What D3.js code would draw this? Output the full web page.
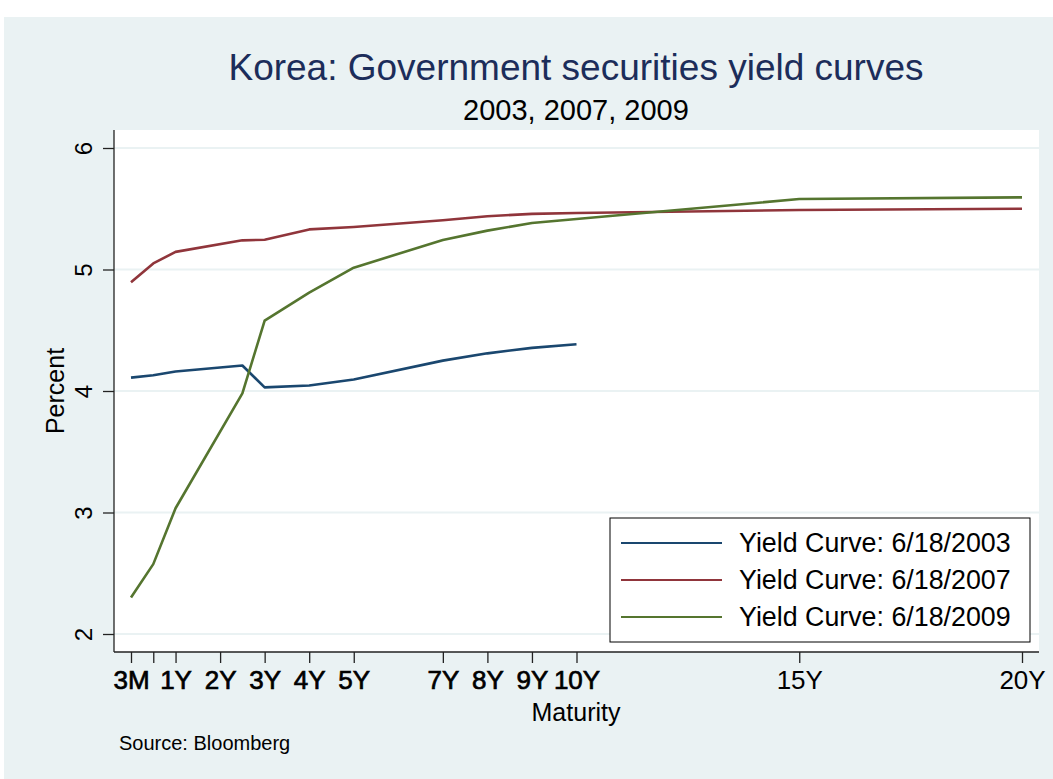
<!DOCTYPE html>
<html>
<head>
<meta charset="utf-8">
<script src="https://cdn.jsdelivr.net/npm/d3@7"></script>
<style>
  html, body { margin: 0; padding: 0; background: #ffffff; }
  svg { display: block; }
  text { font-family: "Liberation Sans", Arial, Helvetica, sans-serif; }
</style>
</head>
<body>
<script>
// ---- data ----
const maturityPos = [0, 0.5, 1, 2.5, 3, 4, 5, 7, 8, 9, 10, 15, 20];
const yield2003 = [4.11, 4.13, 4.16, 4.21, 4.03, 4.045, 4.095, 4.25, 4.31, 4.355, 4.385, null, null];
const yield2007 = [4.895, 5.05, 5.145, 5.24, 5.245, 5.33, 5.35, 5.405, 5.438, 5.458, 5.465, 5.49, 5.50];
const yield2009 = [2.30, 2.575, 3.035, 3.98, 4.58, 4.81, 5.015, 5.243, 5.32, 5.383, 5.415, 5.58, 5.594];
const seriesNames = ["Yield Curve: 6/18/2003", "Yield Curve: 6/18/2007", "Yield Curve: 6/18/2009"];
const seriesColors = ["#1a476f", "#90353b", "#55752f"];
const xTickValues = [0, 0.5, 1, 2, 3, 4, 5, 7, 8, 9, 10, 15, 20];
const xTickLabels = ["3M", "", "1Y", "2Y", "3Y", "4Y", "5Y", "7Y", "8Y", "9Y", "10Y", "15Y", "20Y"];
const yTickValues = [2, 3, 4, 5, 6];
const titleText = "Korea: Government securities yield curves";
const subtitleText = "2003, 2007, 2009";

const W = 1053, H = 779;
const svg = d3.select("body").append("svg").attr("width", W).attr("height", H);

// backgrounds
svg.append("rect").attr("x", 0).attr("y", 0).attr("width", W).attr("height", H).attr("fill", "#ffffff");
svg.append("rect").attr("x", 4).attr("y", 17).attr("width", W - 4).attr("height", H - 17).attr("fill", "#eaf2f3");

const plotL = 114, plotR = 1039, plotT = 130, plotB = 652;
svg.append("rect").attr("x", plotL).attr("y", plotT).attr("width", plotR - plotL).attr("height", plotB - plotT).attr("fill", "#ffffff");

const x = d3.scaleLinear().domain([0, 20]).range([131, 1022]);
const y = d3.scaleLinear().domain([2, 6]).range([634, 148]);

// gridlines
svg.append("g").selectAll("line").data(yTickValues).join("line")
  .attr("x1", plotL).attr("x2", plotR)
  .attr("y1", d => y(d)).attr("y2", d => y(d))
  .attr("stroke", "#eaf2f3").attr("stroke-width", 2.2);

// y axis
const yAxis = d3.axisLeft(y).tickValues(yTickValues).tickSize(11).tickFormat(d3.format("d"));
const gy = svg.append("g").attr("transform", `translate(${plotL},0)`).call(yAxis);
gy.select(".domain").attr("d", `M0,${plotT}V${plotB}`).attr("stroke", "#222").attr("stroke-width", 1.3);
gy.selectAll(".tick line").attr("stroke", "#222").attr("stroke-width", 1.3);
gy.selectAll(".tick text")
  .attr("x", null).attr("dy", null)
  .attr("transform", "translate(-22,0) rotate(-90)")
  .attr("text-anchor", "middle")
  .attr("font-size", 24).attr("fill", "#000")
  .attr("font-family", "Liberation Sans, Arial, sans-serif");

// x axis
const xAxis = d3.axisBottom(x).tickValues(xTickValues).tickSize(11)
  .tickFormat((d, i) => xTickLabels[i]);
const gx = svg.append("g").attr("transform", `translate(0,${plotB})`).call(xAxis);
gx.select(".domain").attr("d", `M${plotL},0H${plotR}`).attr("stroke", "#222").attr("stroke-width", 1.3);
gx.selectAll(".tick line").attr("stroke", "#222").attr("stroke-width", 1.3);
gx.selectAll(".tick text")
  .attr("y", 37).attr("dy", null)
  .attr("font-size", 26).attr("fill", "#000")
  .attr("stroke", d => d <= 10 ? "#000" : "none")
  .attr("stroke-width", 0.7)
  .attr("font-family", "Liberation Sans, Arial, sans-serif");

// lines
const allSeries = [yield2003, yield2007, yield2009];
const line = d3.line()
  .defined(d => d.v !== null)
  .x(d => x(d.m)).y(d => y(d.v));
allSeries.forEach((vals, i) => {
  const pts = maturityPos.map((m, j) => ({ m, v: vals[j] }));
  svg.append("path").datum(pts)
    .attr("d", line)
    .attr("fill", "none")
    .attr("stroke", seriesColors[i])
    .attr("stroke-width", 2.6)
    .attr("stroke-linejoin", "round");
});

// titles
svg.append("text").attr("x", 576).attr("y", 80).attr("text-anchor", "middle")
  .attr("font-size", 37).attr("fill", "#1c2d5a").text(titleText);
svg.append("text").attr("x", 576).attr("y", 120).attr("text-anchor", "middle")
  .attr("font-size", 29).attr("fill", "#000").text(subtitleText);

// axis titles
svg.append("text").attr("transform", "translate(64,391) rotate(-90)").attr("text-anchor", "middle")
  .attr("font-size", 25).attr("fill", "#000").text("Percent");
svg.append("text").attr("x", 576).attr("y", 721).attr("text-anchor", "middle")
  .attr("font-size", 25).attr("fill", "#000").text("Maturity");

// source
svg.append("text").attr("x", 119).attr("y", 750)
  .attr("font-size", 20).attr("fill", "#000").text("Source: Bloomberg");

// legend
const lg = svg.append("g");
lg.append("rect").attr("x", 610).attr("y", 518).attr("width", 420).attr("height", 124)
  .attr("fill", "#ffffff").attr("stroke", "#000").attr("stroke-width", 1);
seriesNames.forEach((name, i) => {
  const cy = 543 + i * 37;
  lg.append("line").attr("x1", 621).attr("x2", 722).attr("y1", cy).attr("y2", cy)
    .attr("stroke", seriesColors[i]).attr("stroke-width", 2.2);
  lg.append("text").attr("x", 739).attr("y", cy + 9)
    .attr("font-size", 26.8).attr("fill", "#000").text(name);
});
</script>
</body>
</html>
